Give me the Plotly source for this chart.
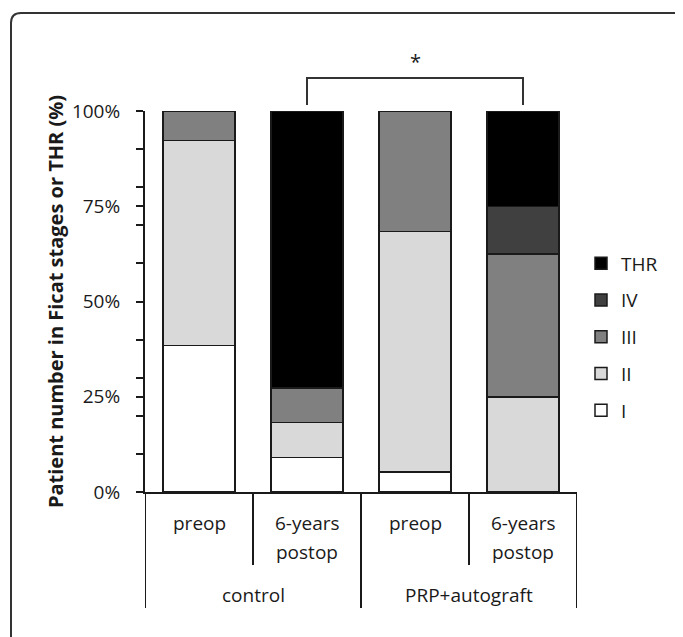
import plotly.graph_objects as go

# ---- data (percent of patients) ----
groups = ["control", "control", "PRP+autograft", "PRP+autograft"]
timepoints = ["preop", "6-years\npostop", "preop", "6-years\npostop"]
stage_names = ["I", "II", "III", "IV", "THR"]
stage_I = [38.5, 9.1, 5.3, 0.0]
stage_II = [53.8, 9.1, 63.1, 25.0]
stage_III = [7.7, 9.1, 31.6, 37.5]
stage_IV = [0.0, 0.0, 0.0, 12.5]
stage_THR = [0.0, 72.7, 0.0, 25.0]
stage_colors = ["#ffffff", "#d9d9d9", "#808080", "#404040", "#000000"]
y_ticks = [0, 25, 50, 75, 100]
significance = (1, 3, "*")  # bracket between bar 1 and bar 3

# page is offset by the default 8px body margin
OFF = 8
W, H = 683 - OFF, 637 - OFF
PL, PR, PT, PB = 145, 577, 111, 492  # plot area in page pixels
L, R, T, B = PL - OFF, 683 - PR, PT - OFF, 637 - PB
PW, PH = PR - PL, PB - PT
FONT = "Open Sans"
INK = "#1a1a1a"


def px_x(p):
    return (p - PL) / PW


def px_y(p):
    return (PB - p) / PH


x_idx = list(range(len(timepoints)))
series = [stage_I, stage_II, stage_III, stage_IV, stage_THR]

fig = go.Figure()
for k, (name, vals, col) in enumerate(zip(stage_names, series, stage_colors)):
    fig.add_trace(go.Bar(
        x=x_idx, y=vals, name=name, legendgroup=name,
        legendrank=len(stage_names) - k,
        marker=dict(color=col, line=dict(color=INK, width=1.5)),
        width=0.667,
    ))

# hierarchical category axis below the plot
shapes = []
annotations = []
n = len(timepoints)
for i in range(n + 1):
    b = i - 0.5
    is_group_edge = i == 0 or i == n or groups[i - 1] != groups[i]
    yb = px_y(608) if is_group_edge else px_y(565)
    shapes.append(dict(type="line", xref="x", yref="paper", x0=b, x1=b,
                       y0=0, y1=yb, line=dict(color=INK, width=2)))
for i, lab in enumerate(timepoints):
    for j, ln in enumerate(lab.split("\n")):
        annotations.append(dict(xref="x", yref="paper", x=i, y=px_y(523 + 29 * j),
                                text=ln, showarrow=False, yanchor="middle",
                                font=dict(family=FONT, size=19, color=INK)))
seen = []
for g in groups:
    if g not in seen:
        seen.append(g)
for g in seen:
    idx = [i for i, gg in enumerate(groups) if gg == g]
    annotations.append(dict(xref="x", yref="paper", x=sum(idx) / len(idx), y=px_y(595),
                            text=g, showarrow=False, yanchor="middle",
                            font=dict(family=FONT, size=19, color=INK)))

# significance bracket
a, b2, star = significance
shapes.append(dict(type="path", xref="x", yref="paper",
                   path=f"M {a},{px_y(105)} L {a},{px_y(78)} L {b2},{px_y(78)} L {b2},{px_y(105)}",
                   line=dict(color="#333333", width=2)))
annotations.append(dict(xref="x", yref="paper", x=(a + b2) / 2, y=px_y(62), text=star,
                        showarrow=False, yanchor="middle",
                        font=dict(family=FONT, size=20, color=INK)))

# outer rounded border (open on the right/bottom, as cropped in the original)
x0, yt = px_x(11), px_y(13)
xr, yb = px_x(690), px_y(640)
dx, dy = 10 / PW, 10 / PH
shapes.append(dict(type="path", xref="paper", yref="paper",
                   path=f"M {x0},{yb} L {x0},{yt - dy} Q {x0},{yt} {x0 + dx},{yt} L {xr},{yt}",
                   line=dict(color="#333333", width=2)))

fig.update_layout(
    width=W, height=H, autosize=False,
    margin=dict(l=L, r=R, t=T, b=B, pad=0),
    paper_bgcolor="white", plot_bgcolor="white",
    barmode="stack",
    font=dict(family=FONT, size=19, color=INK),
    shapes=shapes, annotations=annotations,
    legend=dict(x=px_x(581), y=px_y(337), xanchor="left", yanchor="middle",
                traceorder="grouped", tracegroupgap=9,
                font=dict(family=FONT, size=19, color=INK),
                bgcolor="rgba(0,0,0,0)"),
    xaxis=dict(range=[-0.5, n - 0.5], showticklabels=False, ticks="",
               showline=True, linecolor=INK, linewidth=2,
               showgrid=False, zeroline=False, fixedrange=True),
    yaxis=dict(range=[0, 100], tickvals=y_ticks, ticktext=[f"{v}%" for v in y_ticks],
               ticks="outside", ticklen=7, tickwidth=1.5, tickcolor=INK,
               showline=True, linecolor=INK, linewidth=2,
               showgrid=False, zeroline=False, ticklabelstandoff=12,
               minor=dict(dtick=10, tick0=0, ticks="outside", ticklen=7,
                          tickwidth=1.5, tickcolor=INK, showgrid=False),
               title=dict(text="<b>Patient number in Ficat stages or THR (%)</b>",
                          font=dict(family=FONT, size=20, color=INK),
                          standoff=3),
               automargin=False),
)

fig.write_html("out.html")
